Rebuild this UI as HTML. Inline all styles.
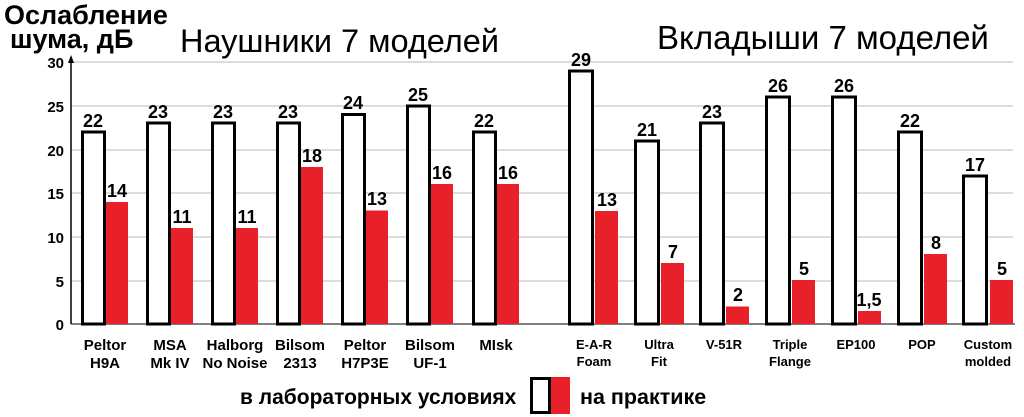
<!DOCTYPE html>
<html><head><meta charset="utf-8"><style>
html,body{margin:0;padding:0;background:#fff}
svg{display:block}
text{font-family:"Liberation Sans",sans-serif}
.v{font-weight:bold;font-size:18px;text-anchor:middle}
.t{font-weight:bold;font-size:15px;text-anchor:end}
.c{font-weight:bold;font-size:15px;text-anchor:middle}
.c2{font-weight:bold;font-size:13px;text-anchor:middle}
.w{fill:#fff;stroke:#000;stroke-width:3}
.r{fill:#e8202a}
.g{stroke:#c8c8c8;stroke-width:1.2}
</style></head><body>
<svg width="1024" height="417" viewBox="0 0 1024 417">
<g class="g">
<line x1="71" y1="62" x2="1013" y2="62"/>
<line x1="71" y1="106" x2="1013" y2="106"/>
<line x1="71" y1="150" x2="1013" y2="150"/>
<line x1="71" y1="193" x2="1013" y2="193"/>
<line x1="71" y1="237" x2="1013" y2="237"/>
<line x1="71" y1="281" x2="1013" y2="281"/>
</g>
<line x1="71" y1="324" x2="1015" y2="324" stroke="#555" stroke-width="1.5"/>
<line x1="71" y1="324" x2="71" y2="60" stroke="#000" stroke-width="1.5"/>
<polygon points="71,55 68,63 74,63" fill="#000"/>
<g class="t">
<text x="64" y="68">30</text><text x="64" y="112">25</text><text x="64" y="156">20</text>
<text x="64" y="199">15</text><text x="64" y="243">10</text><text x="64" y="287">5</text><text x="64" y="330">0</text>
</g>
<text x="4" y="24" font-weight="bold" font-size="27">Ослабление</text>
<text x="10" y="48" font-weight="bold" font-size="27">шума, дБ</text>
<text x="180" y="52" font-size="32.5">Наушники 7 моделей</text>
<text x="657" y="49" font-size="33">Вкладыши 7 моделей</text>

<rect class="w" x="82.5" y="132" width="22" height="192"/><rect class="r" x="106" y="202" width="22" height="122"/>
<rect class="w" x="147.5" y="123" width="22" height="201"/><rect class="r" x="171" y="228" width="22" height="96"/>
<rect class="w" x="212.5" y="123" width="22" height="201"/><rect class="r" x="236" y="228" width="22" height="96"/>
<rect class="w" x="277.5" y="123" width="22" height="201"/><rect class="r" x="301" y="167" width="22" height="157"/>
<rect class="w" x="342.5" y="114.5" width="22" height="209.5"/><rect class="r" x="366" y="210.5" width="22" height="113.5"/>
<rect class="w" x="407.5" y="106" width="22" height="218"/><rect class="r" x="431" y="184" width="22" height="140"/>
<rect class="w" x="473.5" y="132" width="22" height="192"/><rect class="r" x="497" y="184" width="22" height="140"/>
<g class="v">
<text x="93" y="127">22</text><text x="117" y="197">14</text>
<text x="158" y="118">23</text><text x="182" y="223">11</text>
<text x="223" y="118">23</text><text x="247" y="223">11</text>
<text x="288" y="118">23</text><text x="312" y="162">18</text>
<text x="353" y="109">24</text><text x="377" y="205">13</text>
<text x="418" y="101">25</text><text x="442" y="179">16</text>
<text x="484" y="127">22</text><text x="508" y="179">16</text>
</g>
<g class="c">
<text x="105" y="350">Peltor</text><text x="105" y="368">H9A</text>
<text x="170" y="350">MSA</text><text x="170" y="368">Mk IV</text>
<text x="235" y="350">Halborg</text><text x="235" y="368">No Noise</text>
<text x="300" y="350">Bilsom</text><text x="300" y="368">2313</text>
<text x="365" y="350">Peltor</text><text x="365" y="368">H7P3E</text>
<text x="430" y="350">Bilsom</text><text x="430" y="368">UF-1</text>
<text x="496" y="350">MIsk</text>
</g>

<rect class="w" x="569.5" y="71" width="23" height="253"/><rect class="r" x="595" y="211" width="23" height="113"/>
<rect class="w" x="635.5" y="141" width="23" height="183"/><rect class="r" x="661" y="263" width="23" height="61"/>
<rect class="w" x="700.5" y="123" width="23" height="201"/><rect class="r" x="726" y="306.5" width="23" height="17.5"/>
<rect class="w" x="766.5" y="97" width="23" height="227"/><rect class="r" x="792" y="280" width="23" height="44"/>
<rect class="w" x="832.5" y="97" width="23" height="227"/><rect class="r" x="858" y="311" width="23" height="13"/>
<rect class="w" x="898.5" y="132" width="23" height="192"/><rect class="r" x="924" y="254" width="23" height="70"/>
<rect class="w" x="963.5" y="176" width="23" height="148"/><rect class="r" x="990" y="280" width="23" height="44"/>
<g class="v">
<text x="581" y="66">29</text><text x="607" y="206">13</text>
<text x="647" y="136">21</text><text x="673" y="258">7</text>
<text x="712" y="118">23</text><text x="738" y="301">2</text>
<text x="778" y="92">26</text><text x="804" y="275">5</text>
<text x="844" y="92">26</text><text x="869" y="306">1,5</text>
<text x="910" y="127">22</text><text x="936" y="249">8</text>
<text x="975" y="171">17</text><text x="1002" y="275">5</text>
</g>
<g class="c2">
<text x="594" y="349">E-A-R</text><text x="594" y="366">Foam</text>
<text x="659" y="349">Ultra</text><text x="659" y="366">Fit</text>
<text x="724" y="349">V-51R</text>
<text x="790" y="349">Triple</text><text x="790" y="366">Flange</text>
<text x="856" y="349">EP100</text>
<text x="922" y="349">POP</text>
<text x="988" y="349">Custom</text><text x="988" y="366">molded</text>
</g>

<text x="240" y="404" font-weight="bold" font-size="21">в лабораторных условиях</text>
<rect x="531.5" y="378.5" width="18" height="34" fill="#fff" stroke="#000" stroke-width="3"/>
<rect x="551" y="377" width="19" height="37" fill="#e8202a"/>
<text x="580" y="404" font-weight="bold" font-size="21.5">на практике</text>
</svg>
</body></html>
